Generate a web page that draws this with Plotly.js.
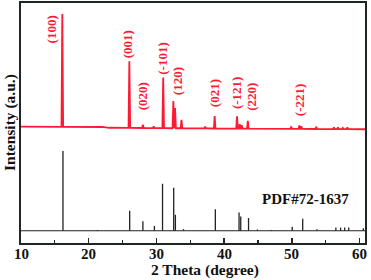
<!DOCTYPE html>
<html><head><meta charset="utf-8">
<script src="https://cdn.plot.ly/plotly-3.0.1.min.js"></script>
<style>html,body{margin:0;padding:0;background:#fff;}#chart{width:371px;height:280px;}</style>
</head><body><div id="chart"></div>
<script>
// Sample (red) pattern: peak positions (2θ) and relative intensities
const samplePeakPos = [16.1, 26.0, 28.0, 29.6, 31.0, 32.5, 32.75, 33.7, 37.2, 38.6, 41.9, 42.3, 42.6, 43.5, 49.9, 51.1, 51.4, 53.6, 56.2, 56.8, 57.5, 58.2];
const samplePeakInt = [100, 59, 3, 1.5, 45, 24, 18, 7.5, 1.5, 11, 11, 4, 3, 7, 2, 3, 2.5, 2, 1.5, 1.5, 1, 1.5];
// Sample background level read along the baseline
const sampleBgX = [10, 22, 23, 30, 40, 50, 60.8];
const sampleBgY = [2.3, 2.0, 1.3, 1.0, 0.6, 0.3, 0.0];
// Reference card PDF#72-1637 sticks
const refPos = [16.2, 21.3, 26.05, 28.0, 29.7, 30.9, 32.55, 32.8, 34.0, 38.7, 42.2, 42.45, 43.6, 44.9, 47.0, 50.05, 51.6, 53.7, 56.5, 57.2, 57.8, 58.4, 60.55];
const refInt = [100, 1, 25, 12, 6, 59, 54, 20, 2, 27, 23, 18, 16, 1.5, 1, 5, 15, 2, 4, 4, 4, 4, 3];
// Miller index labels
const hklText = ['(100)', '(001)', '(020)', '(-101)', '(120)', '(021)', '(-121)', '(220)', '(-221)'];
const hklX = [14.5, 25.7, 27.98, 30.87, 33.14, 38.53, 41.83, 43.93, 51.15];
const hklY = [89.2, 82.9, 61.0, 76.9, 67.3, 62.5, 62.7, 60.8, 59.8];
const refName = 'PDF#72-1637';
// Axis ticks and titles
const xTickVals = [10, 20, 30, 40, 50, 60];
const xTickText = ['10', '20', '30', '40', '50', '60'];
const xTitle = '2 Theta (degree)';
const yTitle = 'Intensity (a.u.)';

const RED = '#ff1a33';
const redOff = 47.4, redScale = 0.47;
const blkOff = 5.1, blkScale = 0.332;
const xMin = 10, xMax = 60.8, hw = 0.12;

function bg(x) {
  for (let i = 0; i < sampleBgX.length - 1; i++) {
    if (x >= sampleBgX[i] && x <= sampleBgX[i + 1]) {
      const t = (x - sampleBgX[i]) / (sampleBgX[i + 1] - sampleBgX[i]);
      return sampleBgY[i] + t * (sampleBgY[i + 1] - sampleBgY[i]);
    }
  }
  return sampleBgY[sampleBgY.length - 1];
}
let pts = [];
sampleBgX.forEach(x => pts.push([x, bg(x)]));
samplePeakPos.forEach((p, i) => {
  pts.push([p - hw, bg(p - hw)]);
  pts.push([p, bg(p) + samplePeakInt[i]]);
  pts.push([p + hw, bg(p + hw)]);
});
pts.sort((a, b) => a[0] - b[0]);
const redX = pts.map(d => d[0]);
const redY = pts.map(d => redOff + redScale * d[1]);

const stX = [], stY = [];
refPos.forEach((p, i) => {
  stX.push(p, p, null);
  stY.push(blkOff, blkOff + blkScale * refInt[i], null);
});

const traces = [
  {x: redX, y: redY, type: 'scatter', mode: 'lines', line: {color: RED, width: 1.8}, hoverinfo: 'skip'},
  {x: [xMin, xMax], y: [blkOff, blkOff], type: 'scatter', mode: 'lines', line: {color: '#222', width: 1.2}, hoverinfo: 'skip'},
  {x: stX, y: stY, type: 'scatter', mode: 'lines', line: {color: '#222', width: 1.3}, hoverinfo: 'skip'}
];

const font = 'Liberation Serif, Times New Roman, serif';
const annotations = hklText.map((t, i) => ({
  x: hklX[i], y: hklY[i], xref: 'x', yref: 'y', text: '<b>' + t + '</b>', showarrow: false,
  textangle: -90, xanchor: 'center', yanchor: 'middle',
  font: {family: font, size: 13, color: RED}
}));
annotations.push({x: 58.8, y: 18.5, xref: 'x', yref: 'y', text: '<b>' + refName + '</b>', showarrow: false,
  xanchor: 'right', yanchor: 'middle', font: {family: font, size: 15, color: '#111'}});
// tick labels (drawn as annotations to sit close to the axis like the reference)
xTickVals.forEach((v, i) => annotations.push({
  x: v, y: 0, xref: 'x', yref: 'paper', yshift: -11, text: '<b>' + xTickText[i] + '</b>', showarrow: false,
  xanchor: 'center', yanchor: 'middle', font: {family: font, size: 15, color: '#111'}
}));
annotations.push({x: 0.535, y: 0, xref: 'paper', yref: 'paper', yshift: -27, text: '<b>' + xTitle + '</b>', showarrow: false,
  xanchor: 'center', yanchor: 'middle', font: {family: font, size: 15.5, color: '#111'}});
annotations.push({x: 0, y: 0.5, xref: 'paper', yref: 'paper', xshift: -11, text: '<b>' + yTitle + '</b>', showarrow: false,
  textangle: -90, xanchor: 'center', yanchor: 'middle', font: {family: font, size: 15.5, color: '#111'}});

const layout = {
  width: 371, height: 280,
  margin: {l: 21, r: 6, t: 3, b: 37, autoexpand: false},
  paper_bgcolor: '#fff', plot_bgcolor: '#fff',
  showlegend: false,
  font: {family: font, color: '#111'},
  xaxis: {
    range: [xMin, xMax], showgrid: false, zeroline: false, automargin: false,
    showline: true, linecolor: '#1e2626', linewidth: 2, mirror: true,
    ticks: 'inside', ticklen: 5, tickwidth: 1.5, tickcolor: '#1e2626',
    tickmode: 'array', tickvals: xTickVals, showticklabels: false,
    minor: {ticks: 'inside', ticklen: 3, tickwidth: 1.2, tickcolor: '#1e2626', dtick: 5, tick0: 10}
  },
  yaxis: {
    range: [0, 100], showgrid: false, zeroline: false, automargin: false,
    showline: true, linecolor: '#1e2626', linewidth: 2, mirror: true,
    ticks: '', showticklabels: false
  },
  annotations: annotations
};
Plotly.newPlot('chart', traces, layout, {displayModeBar: false, staticPlot: true});
</script></body></html>
